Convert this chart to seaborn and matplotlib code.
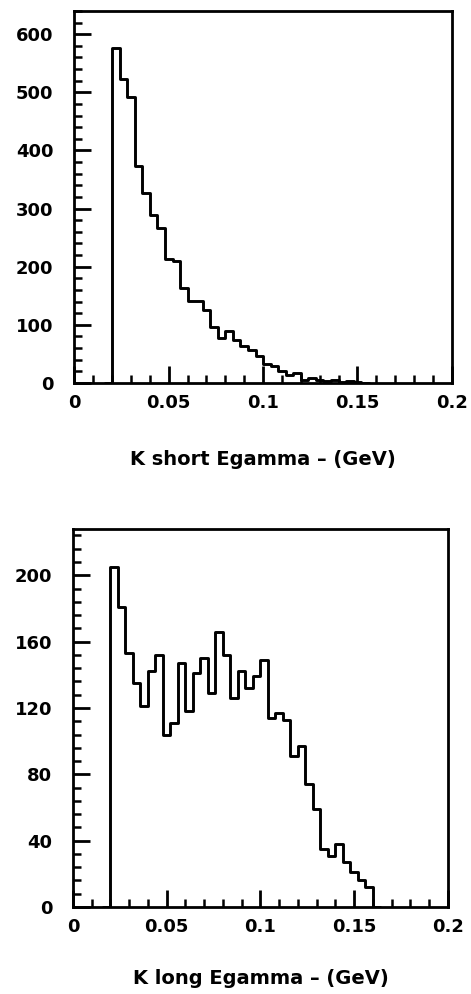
import numpy as np
import pandas as pd
import matplotlib
matplotlib.use("Agg")
import matplotlib.pyplot as plt
from matplotlib.ticker import MultipleLocator
import seaborn as sns

# ---------------- data ----------------
bin_start = 0.02          # first filled bin edge (GeV)
bin_width = 0.004         # GeV

# K short Egamma histogram counts (bins from 0.020 GeV, width 0.004)
kshort_counts = [577, 523, 492, 373, 326, 289, 267, 214, 210, 163,
                 141, 141, 126, 97, 77, 89, 74, 63, 57, 46,
                 32, 30, 20, 13, 17, 6, 8, 6, 4, 5, 2, 3, 1, 0]

# K long Egamma histogram counts (bins from 0.020 GeV, width 0.004)
klong_counts = [205, 181, 153, 135, 121, 142, 152, 104, 111, 147,
                118, 141, 150, 129, 166, 152, 126, 142, 132, 139,
                149, 114, 117, 113, 91, 97, 74, 59, 35, 31,
                38, 27, 21, 16, 12, 0]

xtick_values = [0, 0.05, 0.1, 0.15, 0.2]
xtick_labels = ["0", "0.05", "0.1", "0.15", "0.2"]
kshort_yticks = [0, 100, 200, 300, 400, 500, 600]
klong_yticks = [0, 40, 80, 120, 160, 200]
kshort_xlabel = "K short Egamma – (GeV)"
klong_xlabel = "K long Egamma – (GeV)"

# ---------------- style ----------------
sns.set_style("white")
plt.rcParams["font.family"] = ["DejaVu Sans"]
plt.rcParams["font.weight"] = "bold"
plt.rcParams["text.color"] = "black"
plt.rcParams["axes.labelcolor"] = "black"
plt.rcParams["xtick.color"] = "black"
plt.rcParams["ytick.color"] = "black"
plt.rcParams["xtick.labelcolor"] = "black"
plt.rcParams["ytick.labelcolor"] = "black"

fig = plt.figure(figsize=(4.71, 9.94), dpi=100)
ax1 = fig.add_axes([0.158, 0.6147, 0.801, 0.3743])
ax2 = fig.add_axes([0.155, 0.0875, 0.796, 0.3805])


def draw(ax, counts, ylim, yticks, yminor, xlabel, labelpad):
    counts = np.asarray(counts, dtype=float)
    # leading empty bin so the outline rises vertically at the first edge
    vals = np.concatenate([[0.0], counts])
    lo = bin_start - bin_width
    hi = lo + bin_width * len(vals)
    centers = lo + bin_width * (np.arange(len(vals)) + 0.5)
    df = pd.DataFrame({"E": centers, "n": vals})
    sns.histplot(data=df, x="E", weights="n", binwidth=bin_width,
                 binrange=(lo, hi), element="step",
                 fill=False, color="black", linewidth=2.1, ax=ax)
    ax.set_xlim(0, 0.2)
    ax.set_ylim(*ylim)
    ax.set_xticks(xtick_values, xtick_labels)
    ax.set_yticks(yticks, [str(v) for v in yticks])
    ax.xaxis.set_minor_locator(MultipleLocator(0.01))
    ax.yaxis.set_minor_locator(MultipleLocator(yminor))
    ax.tick_params(which="major", direction="in", length=12, width=2.0,
                   labelsize=13, top=False, right=False, color="black",
                   labelcolor="black", bottom=True, left=True)
    ax.tick_params(which="minor", direction="in", length=6, width=1.8,
                   top=False, right=False, color="black", bottom=True, left=True)
    ax.tick_params(axis="y", pad=15)
    ax.tick_params(axis="x", pad=8)
    ax.set_ylabel("")
    ax.set_xlabel(xlabel, fontsize=14, fontweight="bold", labelpad=labelpad,
                  color="black")
    for sp in ax.spines.values():
        sp.set_visible(True)
        sp.set_linewidth(2.0)
        sp.set_color("black")
    for lab in ax.get_xticklabels() + ax.get_yticklabels():
        lab.set_fontweight("bold")
        lab.set_color("black")


draw(ax1, kshort_counts, (0, 640), kshort_yticks, 20, kshort_xlabel, 27)
draw(ax2, klong_counts, (0, 228), klong_yticks, 8, klong_xlabel, 24)

fig.savefig("out.png", dpi=100)
